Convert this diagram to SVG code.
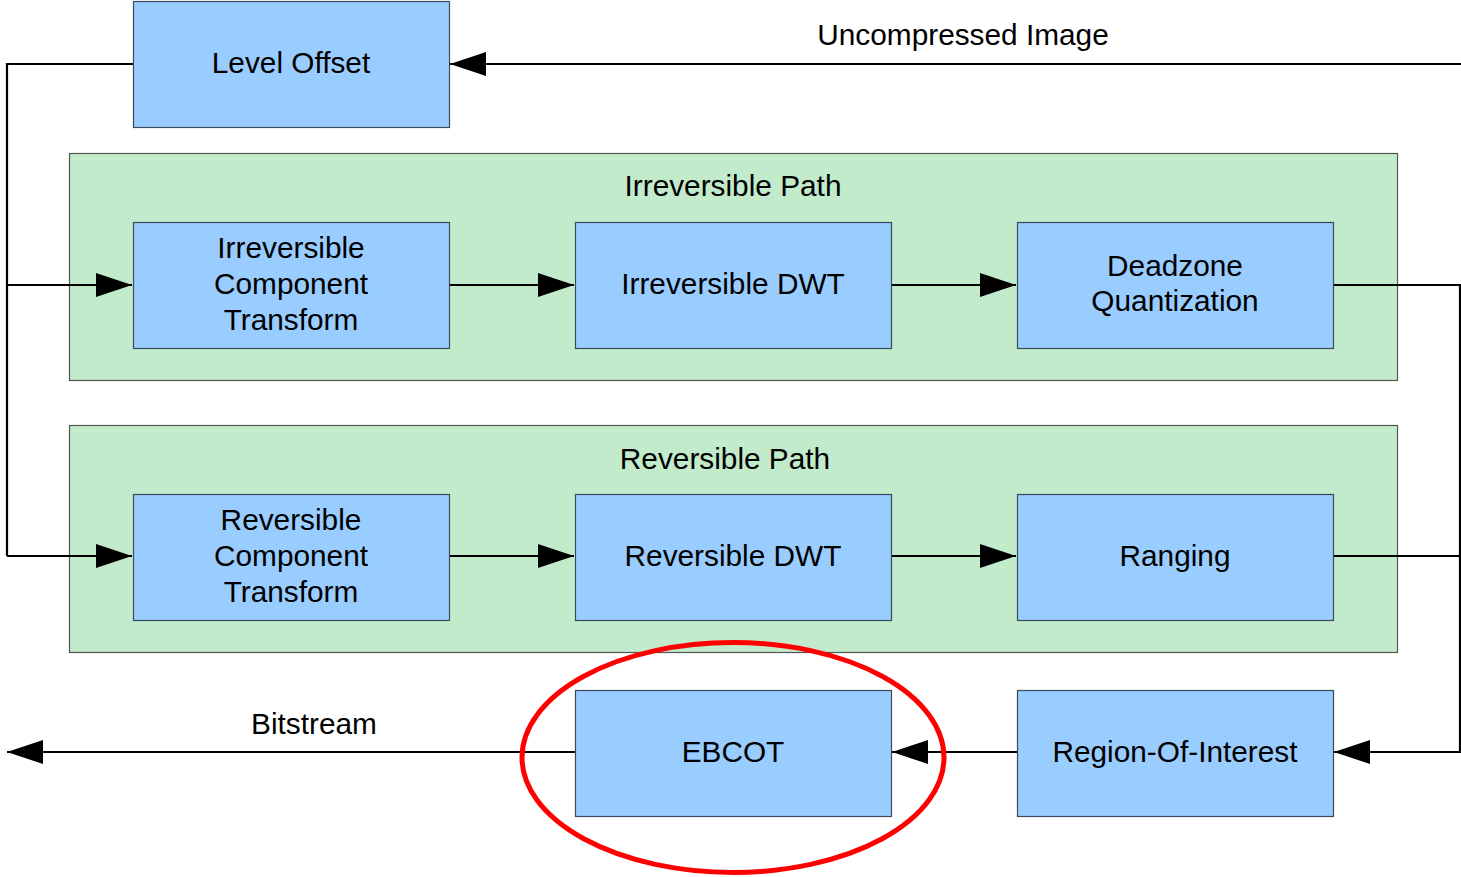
<svg xmlns="http://www.w3.org/2000/svg" width="1461" height="877" viewBox="0 0 1461 877">
<defs>
<marker id="ah" markerUnits="userSpaceOnUse" markerWidth="38" markerHeight="26" refX="36" refY="12" orient="auto">
<path d="M0,0 L36,12 L0,24 Z" fill="#000"/>
</marker>
<style>
.box{fill:#99ccff;stroke:#3a4a5a;stroke-width:1.2}
.grp{fill:#c2ebcc;stroke:#555;stroke-width:1.2}
.t{font-family:"Liberation Sans",Arial,sans-serif;font-size:29.8px;fill:#000;text-anchor:middle}
.c{fill:none;stroke:#000;stroke-width:2.2}
</style>
</defs>
<rect width="1461" height="877" fill="#fff"/>
<g id="irreversible-path">
<rect class="grp" x="69.5" y="153.5" width="1328" height="227"/>
<text class="t" x="733" y="196">Irreversible Path</text>
</g>
<g id="reversible-path">
<rect class="grp" x="69.5" y="425.5" width="1328" height="227"/>
<text class="t" x="725" y="469">Reversible Path</text>
</g>
<g id="connectors">
<path class="c" d="M1461,64 H450" marker-end="url(#ah)"/>
<path class="c" d="M133,64 H7 V556"/>
<path class="c" d="M7,285 H132" marker-end="url(#ah)"/>
<path class="c" d="M7,556 H132" marker-end="url(#ah)"/>
<path class="c" d="M449,285 H574" marker-end="url(#ah)"/>
<path class="c" d="M891,285 H1016" marker-end="url(#ah)"/>
<path class="c" d="M449,556 H574" marker-end="url(#ah)"/>
<path class="c" d="M891,556 H1016" marker-end="url(#ah)"/>
<path class="c" d="M1333,285 H1460 V752 H1334" marker-end="url(#ah)"/>
<path class="c" d="M1333,556 H1460"/>
<path class="c" d="M1017,752 H892" marker-end="url(#ah)"/>
<path class="c" d="M575,752 H7" marker-end="url(#ah)"/>
<text class="t" x="963" y="45">Uncompressed Image</text>
<text class="t" x="314" y="734">Bitstream</text>
</g>
<g id="level-offset">
<rect class="box" x="133.5" y="1.5" width="316" height="126"/>
<text class="t" x="291" y="73">Level Offset</text>
</g>
<g id="ict">
<rect class="box" x="133.5" y="222.5" width="316" height="126"/>
<text class="t" x="291" y="258">Irreversible</text>
<text class="t" x="291" y="294">Component</text>
<text class="t" x="291" y="330">Transform</text>
</g>
<g id="idwt">
<rect class="box" x="575.5" y="222.5" width="316" height="126"/>
<text class="t" x="733" y="294">Irreversible DWT</text>
</g>
<g id="deadzone">
<rect class="box" x="1017.5" y="222.5" width="316" height="126"/>
<text class="t" x="1175" y="276">Deadzone</text>
<text class="t" x="1175" y="311">Quantization</text>
</g>
<g id="rct">
<rect class="box" x="133.5" y="494.5" width="316" height="126"/>
<text class="t" x="291" y="530">Reversible</text>
<text class="t" x="291" y="566">Component</text>
<text class="t" x="291" y="602">Transform</text>
</g>
<g id="rdwt">
<rect class="box" x="575.5" y="494.5" width="316" height="126"/>
<text class="t" x="733" y="566">Reversible DWT</text>
</g>
<g id="ranging">
<rect class="box" x="1017.5" y="494.5" width="316" height="126"/>
<text class="t" x="1175" y="566">Ranging</text>
</g>
<g id="ebcot">
<rect class="box" x="575.5" y="690.5" width="316" height="126"/>
<text class="t" x="733" y="762">EBCOT</text>
</g>
<g id="roi">
<rect class="box" x="1017.5" y="690.5" width="316" height="126"/>
<text class="t" x="1175" y="762">Region-Of-Interest</text>
</g>
<g id="highlight">
<ellipse cx="733" cy="757.5" rx="211" ry="115" fill="none" stroke="#ff0000" stroke-width="5"/>
</g>
</svg>
